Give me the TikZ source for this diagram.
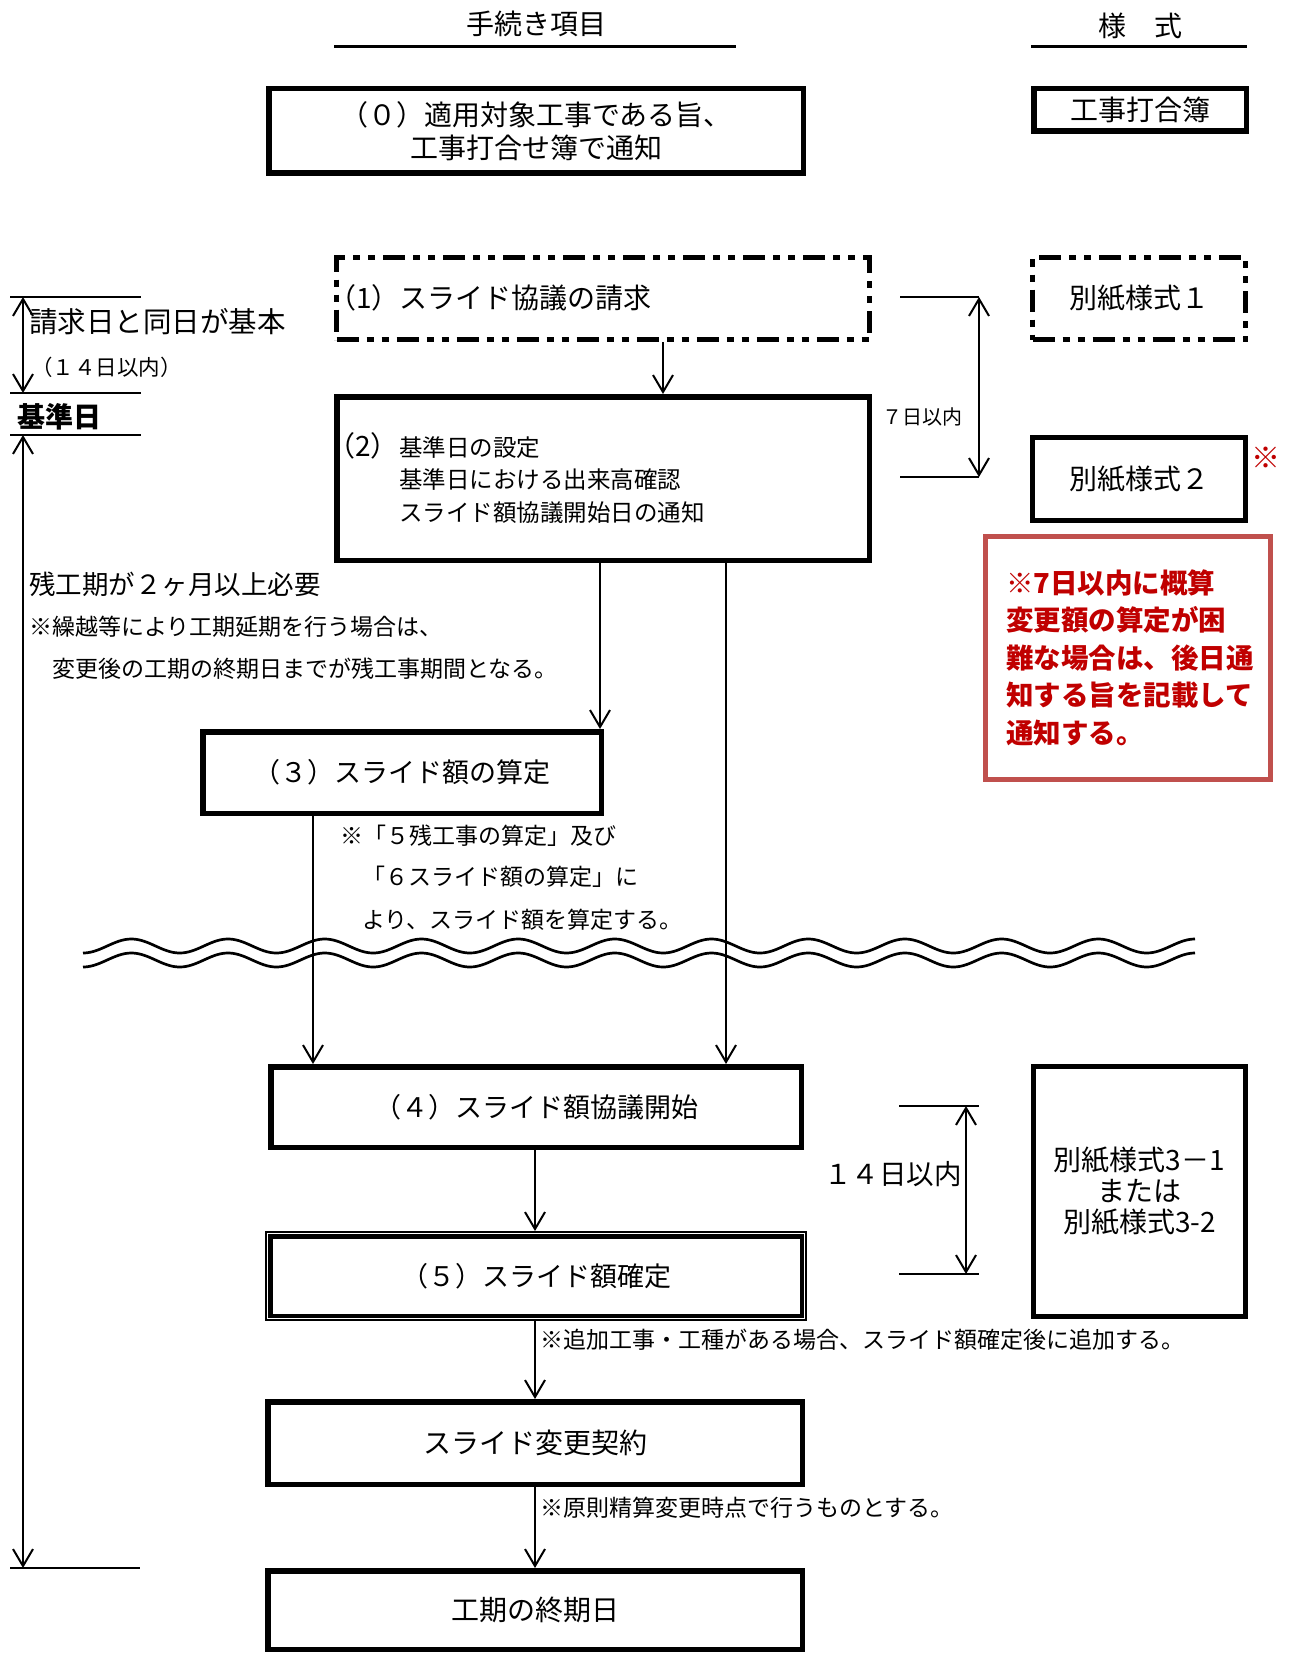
\documentclass[tikz,border=0pt]{standalone}
\usepackage{fontspec}
\setmainfont{Noto Sans CJK JP}
\usetikzlibrary{arrows.meta}
\definecolor{boxred}{RGB}{192,80,77}
\definecolor{txtred}{RGB}{192,0,0}
\newcommand\myfs[2]{\fontsize{#1}{#2}\selectfont}
\tikzset{
 box/.style={draw, line width=5.5pt, inner sep=0pt, align=center},
 ddbox/.style={draw, line width=5pt, inner sep=0pt, align=center, dash pattern=on 22pt off 8pt on 7pt off 8pt on 7pt off 8pt},
 txt/.style={inner sep=0pt},
 arr/.style={line width=2pt, -{Straight Barb[length=17pt,width=20pt,line width=2pt]}},
 darr/.style={line width=2pt, {Straight Barb[length=17pt,width=20pt,line width=2pt]}-{Straight Barb[length=17pt,width=20pt,line width=2pt]}},
 rulel/.style={line width=2.5pt},
 wave/.style={line width=2.7pt},
 redtxt/.style={inner sep=0pt, anchor=base west, text=txtred, font=\myfs{27.5}{33}\bfseries},
}
\begin{document}
\begin{tikzpicture}[x=1pt,y=-1pt]
\fill[white] (0,0) rectangle (1293,1653);
\useasboundingbox (0,0) rectangle (1293,1653);

% headers
\node[txt,anchor=base,font=\myfs{28}{34}] (h1) at (536,35) {手続き項目};
\node[txt,anchor=base,font=\myfs{28}{34}] (h2) at (1140,37) {様　式};
\coordinate (u1a) at (334,47); \coordinate (u1b) at (736,47);
\coordinate (u2a) at (1031,47); \coordinate (u2b) at (1247,47);
\draw[line width=3pt] (u1a) -- (u1b);
\draw[line width=3pt] (u2a) -- (u2b);

% (0)
\node[box, minimum width=534.5pt, minimum height=84.5pt, font=\myfs{28}{33}] (b0) at (536,131) {（０）適用対象工事である旨、\\工事打合せ簿で通知};
\node[box, minimum width=212.5pt, minimum height=42.5pt, font=\myfs{28}{33}] (f0) at (1140,110) {工事打合簿};

% (1)
\node[ddbox, minimum width=533pt, minimum height=82pt] (b1) at (603,298.5) {};
\node[txt, anchor=base west, font=\myfs{28}{34}] (t1) at (328,308) {（1）スライド協議の請求};
\node[ddbox, minimum width=213pt, minimum height=82pt, font=\myfs{28}{34}] (f1) at (1139,298.5) {別紙様式１};

% (2)
\node[box, minimum width=532.5pt, minimum height=163.5pt] (b2) at (603,478.5) {};
\node[txt, anchor=base west, font=\myfs{23.5}{28}] (t2b) at (399,456) {基準日の設定};
\node[txt, anchor=base east, font=\myfs{28}{34}] (t2a) at (399,456) {（2）};
\node[txt, anchor=base west, font=\myfs{23.5}{28}] (t2c) at (399,488.5) {基準日における出来高確認};
\node[txt, anchor=base west, font=\myfs{23.5}{28}] (t2d) at (399,521.5) {スライド額協議開始日の通知};
\node[box, line width=5pt, minimum width=213pt, minimum height=83pt, font=\myfs{28}{34}] (f2) at (1139,479) {別紙様式２};
\node[txt, anchor=base, text=txtred, font=\myfs{29}{32}] (rmark) at (1266,468.5) {※};

% 7 days dimension
\coordinate (d7a) at (900,297); \coordinate (d7b) at (979,297);
\coordinate (d7c) at (900,477); \coordinate (d7d) at (979,477);
\draw[rulel] (d7a) -- (d7b);
\draw[rulel] (d7c) -- (d7d);
\draw[darr] (d7b) -- (d7d);
\node[txt, anchor=base east, font=\myfs{20}{24}] (l7) at (963,424) {７日以内};

% red note
\node[draw=boxred, line width=5pt, minimum width=285pt, minimum height=243pt, inner sep=0pt] (rb) at (1128,658) {};
\node[redtxt] (rt1) at (1006,593) {※7日以内に概算};
\node[redtxt] (rt2) at (1006,630.5) {変更額の算定が困};
\node[redtxt] (rt3) at (1006,668) {難な場合は、後日通};
\node[redtxt] (rt4) at (1006,705.5) {知する旨を記載して};
\node[redtxt] (rt5) at (1006,743) {通知する。};

% left side
\coordinate (l1a) at (10,297); \coordinate (l1b) at (141,297);
\coordinate (l2a) at (10,393); \coordinate (l2b) at (141,393);
\coordinate (l3a) at (10,435); \coordinate (l3b) at (141,435);
\coordinate (l4a) at (10,1568); \coordinate (l4b) at (140,1568);
\draw[rulel] (l1a) -- (l1b);
\draw[rulel] (l2a) -- (l2b);
\draw[rulel] (l3a) -- (l3b);
\draw[rulel] (l4a) -- (l4b);
\coordinate (la1) at (23,297); \coordinate (la2) at (23,393);
\coordinate (la3) at (23,435); \coordinate (la4) at (23,1568);
\draw[darr] (la1) -- (la2);
\draw[darr] (la3) -- (la4);
\node[txt, anchor=base, font=\myfs{28}{32}\bfseries] (kj) at (59,427) {基準日};
\node[txt, anchor=base west, font=\myfs{28.5}{34}] (s1) at (29,332.3) {請求日と同日が基本};
\node[txt, anchor=base west, font=\myfs{21.5}{26}] (s2) at (31,375.7) {（１４日以内）};
\node[txt, anchor=base west, font=\myfs{26.5}{32}] (s3) at (29,594.5) {残工期が２ヶ月以上必要};
\node[txt, anchor=base west, font=\myfs{23}{28}] (s4) at (29,635.3) {※繰越等により工期延期を行う場合は、};
\node[txt, anchor=base west, font=\myfs{23}{28}] (s5) at (52,677.3) {変更後の工期の終期日までが残工事期間となる。};

% (3)
\node[box, minimum width=398.5pt, minimum height=81.5pt, font=\myfs{27}{32}] (b3) at (402,772.5) {（３）スライド額の算定};
\node[txt, anchor=base west, font=\myfs{23}{28}] (n1) at (340,844.3) {※「５残工事の算定」及び};
\node[txt, anchor=base west, font=\myfs{23}{28}] (n2) at (362,885.8) {「６スライド額の算定」に};
\node[txt, anchor=base west, font=\myfs{23}{28}] (n3) at (362,928.3) {より、スライド額を算定する。};

% waves
\draw[wave] plot[domain=83:1195, samples=400] (\x, {946+7*cos(3.72285*(\x-83))});
\draw[wave] plot[domain=83:1195, samples=400] (\x, {960+7*cos(3.72285*(\x-83))});

% (4)
\node[box, minimum width=530.5pt, minimum height=80.5pt, font=\myfs{27}{32}] (b4) at (536,1107) {（４）スライド額協議開始};
\node[box, line width=5pt, minimum width=212pt, minimum height=250pt, font=\myfs{28}{31}] (f3) at (1139.5,1191.5) {別紙様式3－1\\または\\別紙様式3-2};

% 14 days dimension
\coordinate (d14a) at (899,1106); \coordinate (d14b) at (979,1106);
\coordinate (d14c) at (899,1274); \coordinate (d14d) at (979,1274);
\coordinate (d14e) at (966,1106); \coordinate (d14f) at (966,1274);
\draw[rulel] (d14a) -- (d14b);
\draw[rulel] (d14c) -- (d14d);
\draw[darr] (d14e) -- (d14f);
\node[txt, anchor=base east, font=\myfs{27.5}{33}] (l14) at (962,1184) {１４日以内};

% (5)
\node[draw, line width=2pt, inner sep=0pt, minimum width=540pt, minimum height=88pt, font=\myfs{27}{32}] (b5) at (536,1276) {（５）スライド額確定};
\draw[line width=4.5pt] ([shift={(5.25,5.25)}]b5.north west) rectangle ([shift={(-5.25,-5.25)}]b5.south east);
\node[txt, anchor=base west, font=\myfs{23}{28}] (n4) at (540,1348.3) {※追加工事・工種がある場合、スライド額確定後に追加する。};

% contract
\node[box, minimum width=534.5pt, minimum height=82.5pt, font=\myfs{28}{33}] (b6) at (535,1443) {スライド変更契約};
\node[txt, anchor=base west, font=\myfs{23}{28}] (n5) at (540,1516.3) {※原則精算変更時点で行うものとする。};

% end
\node[box, minimum width=534.5pt, minimum height=78.5pt, font=\myfs{28}{33}] (b7) at (535,1610) {工期の終期日};

% connectors
\coordinate (c663) at (663,0);
\coordinate (c600) at (600,0);
\coordinate (c726) at (726,0);
\coordinate (c313) at (313,0);
\coordinate (c535) at (535,0);
\draw[arr] (b1.south -| c663) -- (b2.north -| c663);
\draw[arr] (b2.south -| c600) -- (b3.north -| c600);
\draw[arr] (b2.south -| c726) -- (b4.north -| c726);
\draw[arr] (b3.south -| c313) -- (b4.north -| c313);
\draw[arr] (b4.south -| c535) -- (b5.north -| c535);
\draw[arr] (b5.south -| c535) -- (b6.north -| c535);
\draw[arr] (b6.south -| c535) -- (b7.north -| c535);
\end{tikzpicture}
\end{document}
